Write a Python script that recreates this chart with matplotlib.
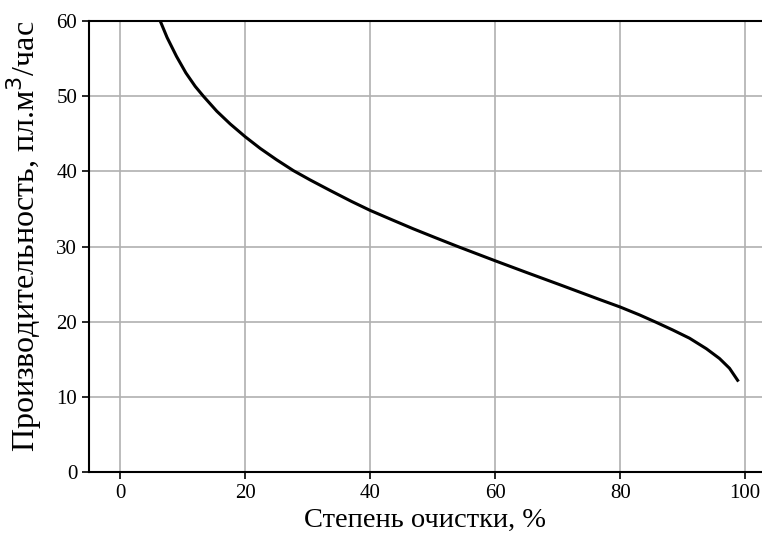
import matplotlib
matplotlib.use("Agg")
import matplotlib.pyplot as plt

x_vals = [6.4, 7.5, 9.0, 10.5, 12.0, 13.3, 15.45, 17.6, 20.0, 22.4, 25.0, 27.7, 30.4, 33.6, 37.0, 40.0, 43.5, 46.9, 50.5, 54.0, 57.0, 60.0, 65.0, 70.4, 76.7, 80.0, 83.1, 85.8, 88.4, 91.1, 93.8, 95.9, 97.5, 98.8]
y_vals = [60.0, 57.8, 55.3, 53.1, 51.3, 50.0, 48.0, 46.3, 44.6, 43.05, 41.55, 40.1, 38.85, 37.45, 36.0, 34.8, 33.55, 32.35, 31.15, 30.0, 29.05, 28.1, 26.55, 24.9, 22.95, 21.95, 20.9, 19.9, 18.9, 17.8, 16.4, 15.1, 13.8, 12.2]

x_ticks = [0, 20, 40, 60, 80, 100]
y_ticks = [0, 10, 20, 30, 40, 50, 60]

plt.rcParams['font.family'] = ['Liberation Serif', 'DejaVu Serif']

fig = plt.figure(figsize=(7.62, 5.37), dpi=100)
ax = fig.add_axes([89/762, 65/537, 1 - 89/762, (472-21)/537])
ax.plot(x_vals, y_vals, color='black', linewidth=2.2, solid_joinstyle='round')
ax.set_xlim(-5, 102.7)
ax.set_ylim(0, 60)
ax.set_xticks(x_ticks)
ax.set_yticks(y_ticks)
ax.grid(True, color='#b0b0b0', linewidth=1.2)
ax.spines['right'].set_visible(False)
for s in ['left', 'bottom', 'top']:
    ax.spines[s].set_linewidth(1.5)
ax.tick_params(axis='both', labelsize=15, width=1.2, length=5)
ax.set_xlabel('Степень очистки, %', fontsize=20.5)
ax.set_ylabel('Производительность, пл.м$^3$/час', fontsize=23)
ax.yaxis.set_label_coords(-0.067, 0.522)
fig.savefig('out.png', dpi=100)
